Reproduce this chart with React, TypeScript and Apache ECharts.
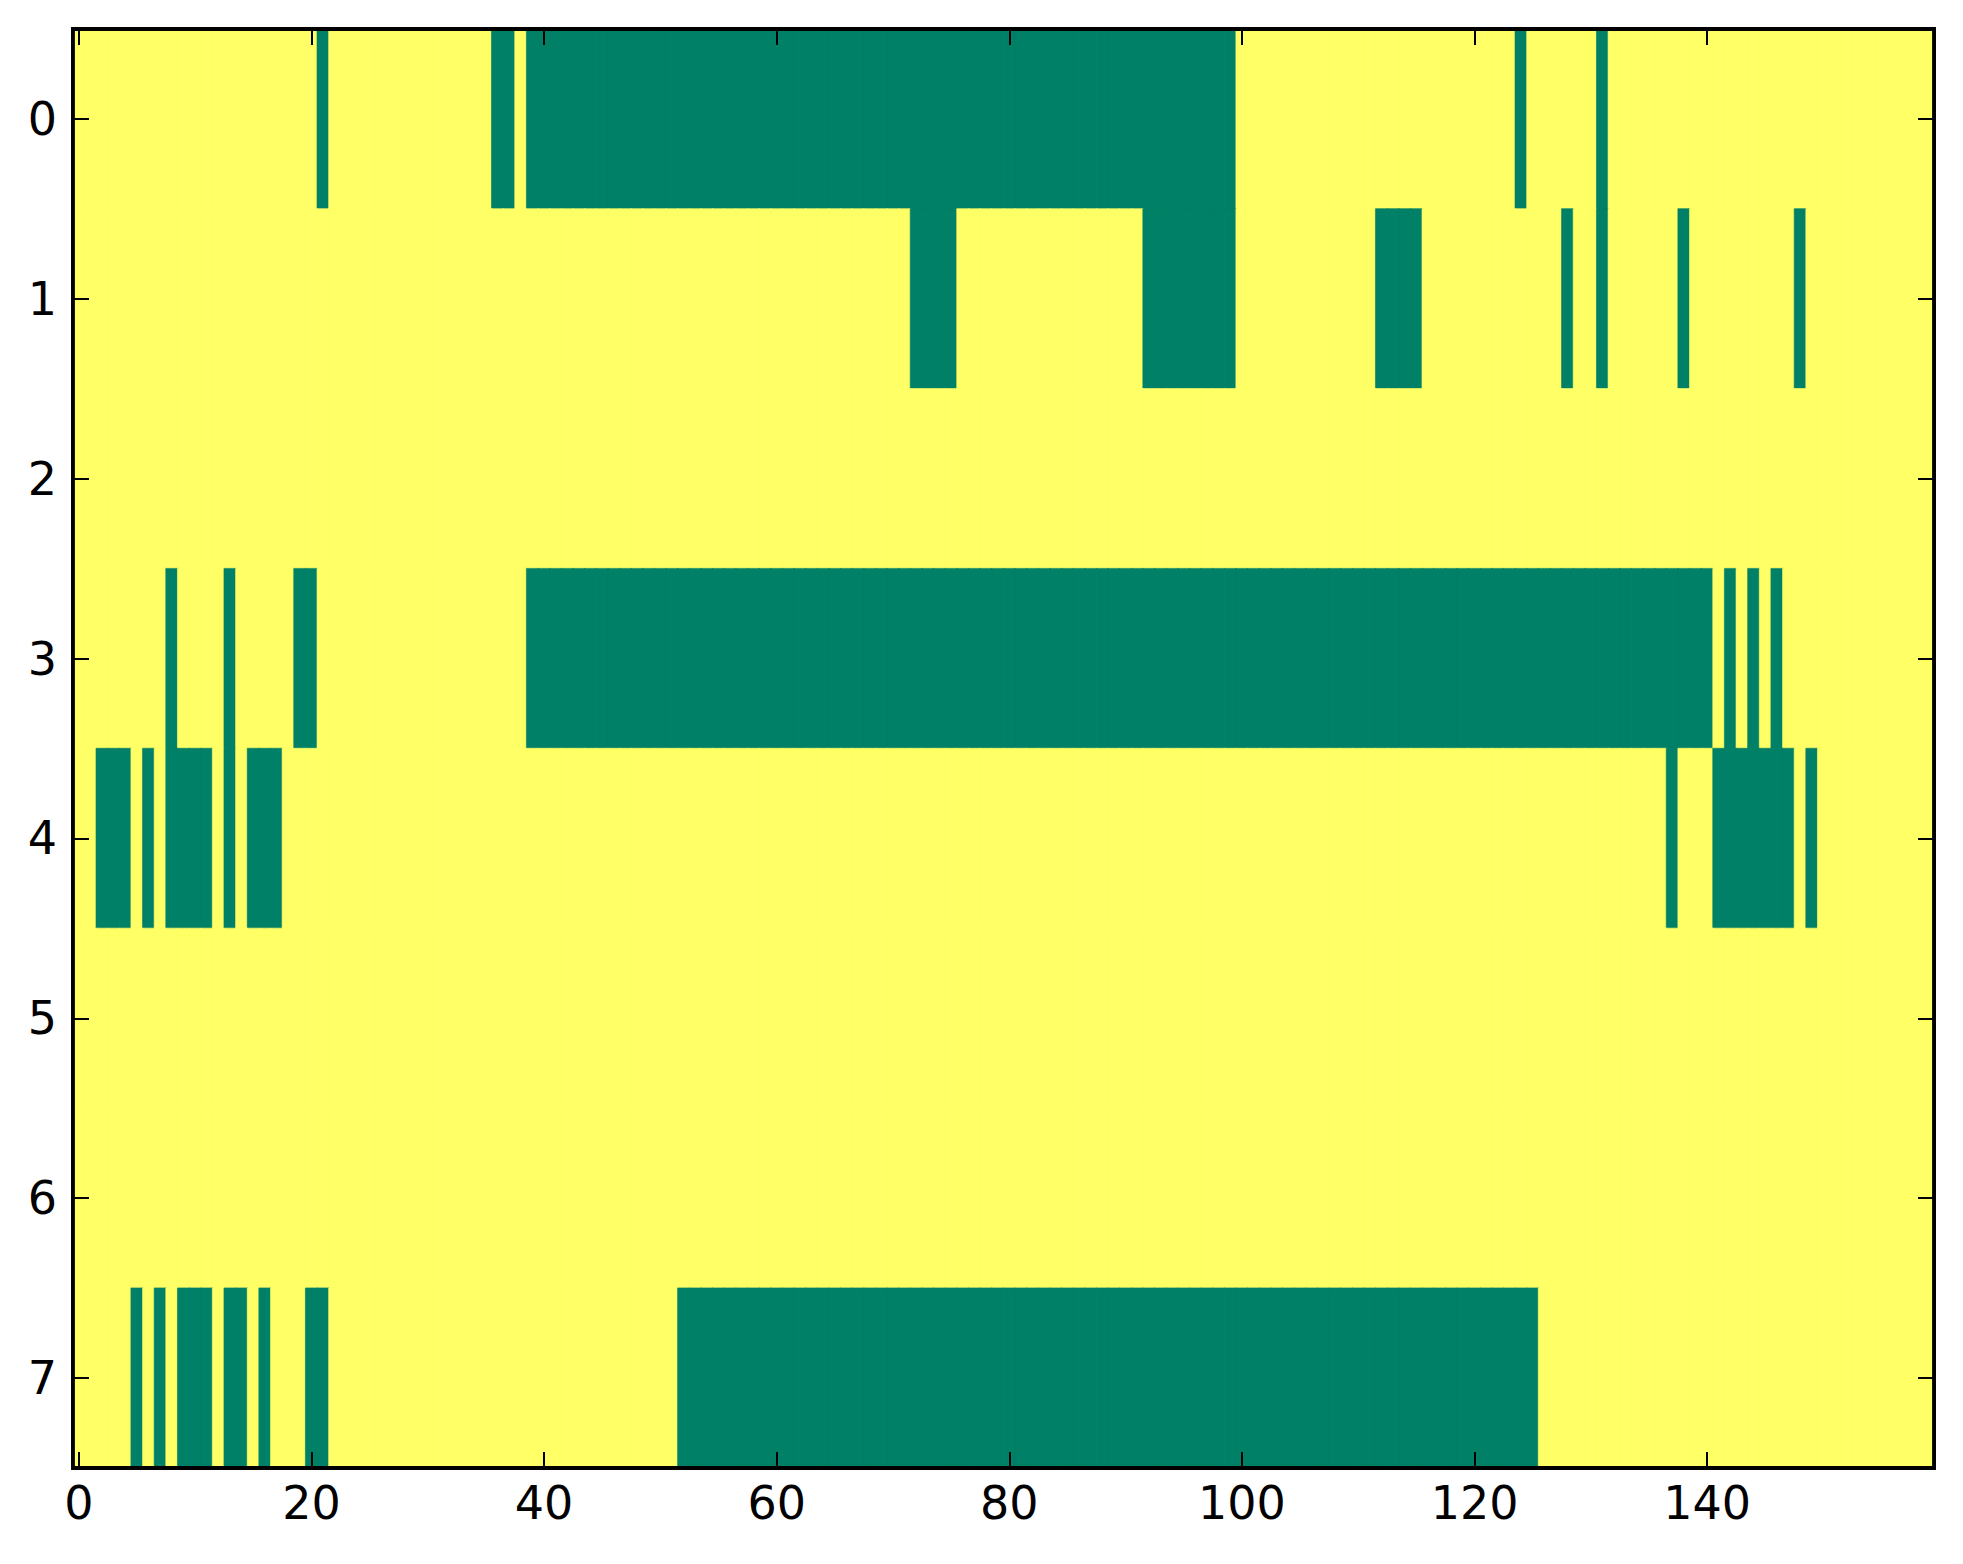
import React, { useEffect, useRef } from "react";
import * as echarts from "echarts";

// Column runs (inclusive start..end) where the cell value is 0 (green); all other cells are 1 (yellow)
const row0Zeros: [number, number][] = [[21, 21], [36, 37], [39, 99], [124, 124], [131, 131]];
const row1Zeros: [number, number][] = [[72, 75], [92, 99], [112, 115], [128, 128], [131, 131], [138, 138], [148, 148]];
const row2Zeros: [number, number][] = [];
const row3Zeros: [number, number][] = [[8, 8], [13, 13], [19, 20], [39, 140], [142, 142], [144, 144], [146, 146]];
const row4Zeros: [number, number][] = [[2, 4], [6, 6], [8, 11], [13, 13], [15, 17], [137, 137], [141, 147], [149, 149]];
const row5Zeros: [number, number][] = [];
const row6Zeros: [number, number][] = [];
const row7Zeros: [number, number][] = [[5, 5], [7, 7], [9, 11], [13, 14], [16, 16], [20, 21], [52, 125]];

const rowsZeros = [row0Zeros, row1Zeros, row2Zeros, row3Zeros, row4Zeros, row5Zeros, row6Zeros, row7Zeros];
const columnCount = 160;
const xTickLabels = [0, 20, 40, 60, 80, 100, 120, 140];
const yTickLabels = ["0", "1", "2", "3", "4", "5", "6", "7"];

const LOW_COLOR = "#008066";
const HIGH_COLOR = "#ffff66";

export default function App() {
  const ref = useRef<HTMLDivElement>(null);

  useEffect(() => {
    if (!ref.current) return;
    const chart = echarts.init(ref.current, undefined, { renderer: "svg" });

    const xCats: string[] = [];
    for (let i = 0; i < columnCount; i++) xCats.push(String(i));

    const data: any[] = [];
    rowsZeros.forEach((runs, r) => {
      for (let c = 0; c < columnCount; c++) {
        const isZero = runs.some(([s, e]) => c >= s && c <= e);
        const v = isZero ? 0 : 1;
        const col = isZero ? LOW_COLOR : HIGH_COLOR;
        data.push({
          value: [c, r, v],
          itemStyle: { borderColor: col, borderWidth: 0.6 },
        });
      }
    });

    const tickSet = new Set(xTickLabels.map(String));
    const showX = (idx: number, val: string) => tickSet.has(val);
    const font = "DejaVu Sans";

    const commonX = {
      type: "category",
      data: xCats,
      boundaryGap: true,
      z: 10,
      axisLine: { show: true, lineStyle: { color: "#000", width: 3.8 } },
      axisTick: { show: true, inside: true, alignWithLabel: true, interval: showX, length: 16, lineStyle: { color: "#000", width: 2 } },
      splitLine: { show: false },
    };
    const commonY = {
      type: "category",
      data: yTickLabels,
      inverse: true,
      boundaryGap: true,
      z: 10,
      axisLine: { show: true, lineStyle: { color: "#000", width: 3.8 } },
      axisTick: { show: true, inside: true, alignWithLabel: true, interval: 0, length: 16, lineStyle: { color: "#000", width: 2 } },
      splitLine: { show: false },
    };

    chart.setOption({
      animation: false,
      backgroundColor: "#ffffff",
      grid: {
        left: 73,
        top: 29,
        width: 1861,
        height: 1439,
        show: true,
        borderColor: "#000",
        borderWidth: 3.8,
        backgroundColor: HIGH_COLOR,
      },
      visualMap: {
        type: "piecewise",
        show: false,
        dimension: 2,
        seriesIndex: 0,
        pieces: [
          { value: 0, color: LOW_COLOR },
          { value: 1, color: HIGH_COLOR },
        ],
      },
      xAxis: [
        {
          ...commonX,
          position: "bottom",
          axisLabel: { show: true, interval: showX, color: "#000", fontSize: 46, fontFamily: font, margin: 12 },
        },
        {
          ...commonX,
          position: "top",
          axisLabel: { show: false },
        },
      ],
      yAxis: [
        {
          ...commonY,
          position: "left",
          axisLabel: { show: true, interval: 0, color: "#000", fontSize: 46, fontFamily: font, margin: 16 },
        },
        {
          ...commonY,
          position: "right",
          axisLabel: { show: false },
        },
      ],
      series: [
        {
          type: "heatmap",
          xAxisIndex: 0,
          yAxisIndex: 0,
          z: 2,
          data,
          progressive: 0,
          emphasis: { disabled: true },
        },
      ],
    });

    return () => chart.dispose();
  }, []);

  return (
    <div
      ref={ref}
      style={{ position: "absolute", left: 0, top: 0, width: 1963, height: 1564 }}
    />
  );
}
